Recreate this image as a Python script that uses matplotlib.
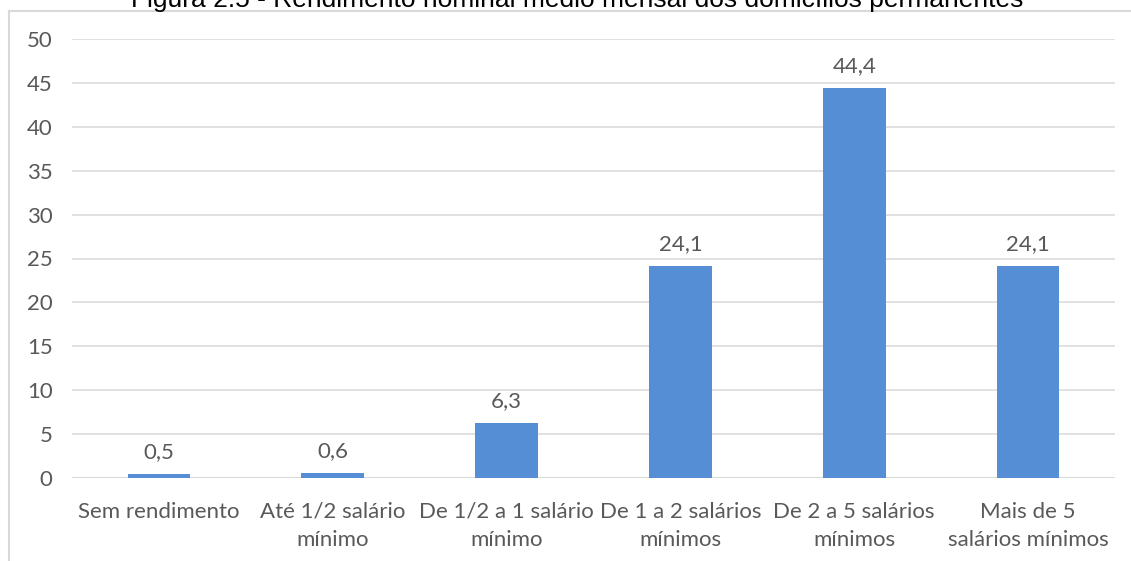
import matplotlib
matplotlib.use("Agg")
import matplotlib.pyplot as plt
from matplotlib.lines import Line2D

categories = ["Sem rendimento", "Até 1/2 salário\nmínimo", "De 1/2 a 1 salário\nmínimo",
              "De 1 a 2 salários\nmínimos", "De 2 a 5 salários\nmínimos", "Mais de 5\nsalários mínimos"]
values = [0.5, 0.6, 6.3, 24.1, 44.4, 24.1]
yticks = [0, 5, 10, 15, 20, 25, 30, 35, 40, 45, 50]
title = "Figura 2.5 - Rendimento nominal médio mensal dos domicílios permanentes"

W, H = 1131, 561
fig = plt.figure(figsize=(W / 100, H / 100), dpi=100)
ax = fig.add_axes([72 / W, 1 - 478 / H, (1115 - 72) / W, (478 - 39) / H])

txt = "#595959"
font = "Lato"
fs = 16
x = list(range(len(categories)))
ax.bar(x, values, width=0.36, color="#558ED5", zorder=3)
ax.set_xlim(-0.5, len(categories) - 0.5)
ax.set_ylim(0, 50)
ax.set_yticks(yticks)
ax.set_yticklabels([str(t) for t in yticks], fontsize=fs, color=txt, family=font)
ax.set_xticks(x)
ax.set_xticklabels(categories, fontsize=fs, color=txt, family=font, linespacing=1.55)
ax.tick_params(axis="both", length=0)
ax.tick_params(axis="y", pad=14)
ax.tick_params(axis="x", pad=17)
ax.yaxis.grid(True, color="#D9D9D9", linewidth=1.1)
for s in ax.spines.values():
    s.set_visible(False)
ax.axhline(0, color="#D9D9D9", linewidth=1.3, zorder=2)

for xi, v in zip(x, values):
    ax.annotate(f"{v:.1f}".replace(".", ","), (xi, v), xytext=(0, 11.5), textcoords="offset points",
                ha="center", va="baseline", fontsize=fs, color=txt, family=font)

# outer chart frame
fig.add_artist(Line2D([9 / W, 9 / W], [0, 1 - 11 / H], transform=fig.transFigure, color="#D9D9D9", linewidth=1.5))
fig.add_artist(Line2D([9 / W, 1], [1 - 11 / H, 1 - 11 / H], transform=fig.transFigure, color="#D9D9D9", linewidth=1.5))

fig.text(577 / W, 1 - 7 / H, title, ha="center", va="baseline", fontsize=19,
         family="Liberation Sans", color="#000000")

fig.savefig("out.png", dpi=100)
